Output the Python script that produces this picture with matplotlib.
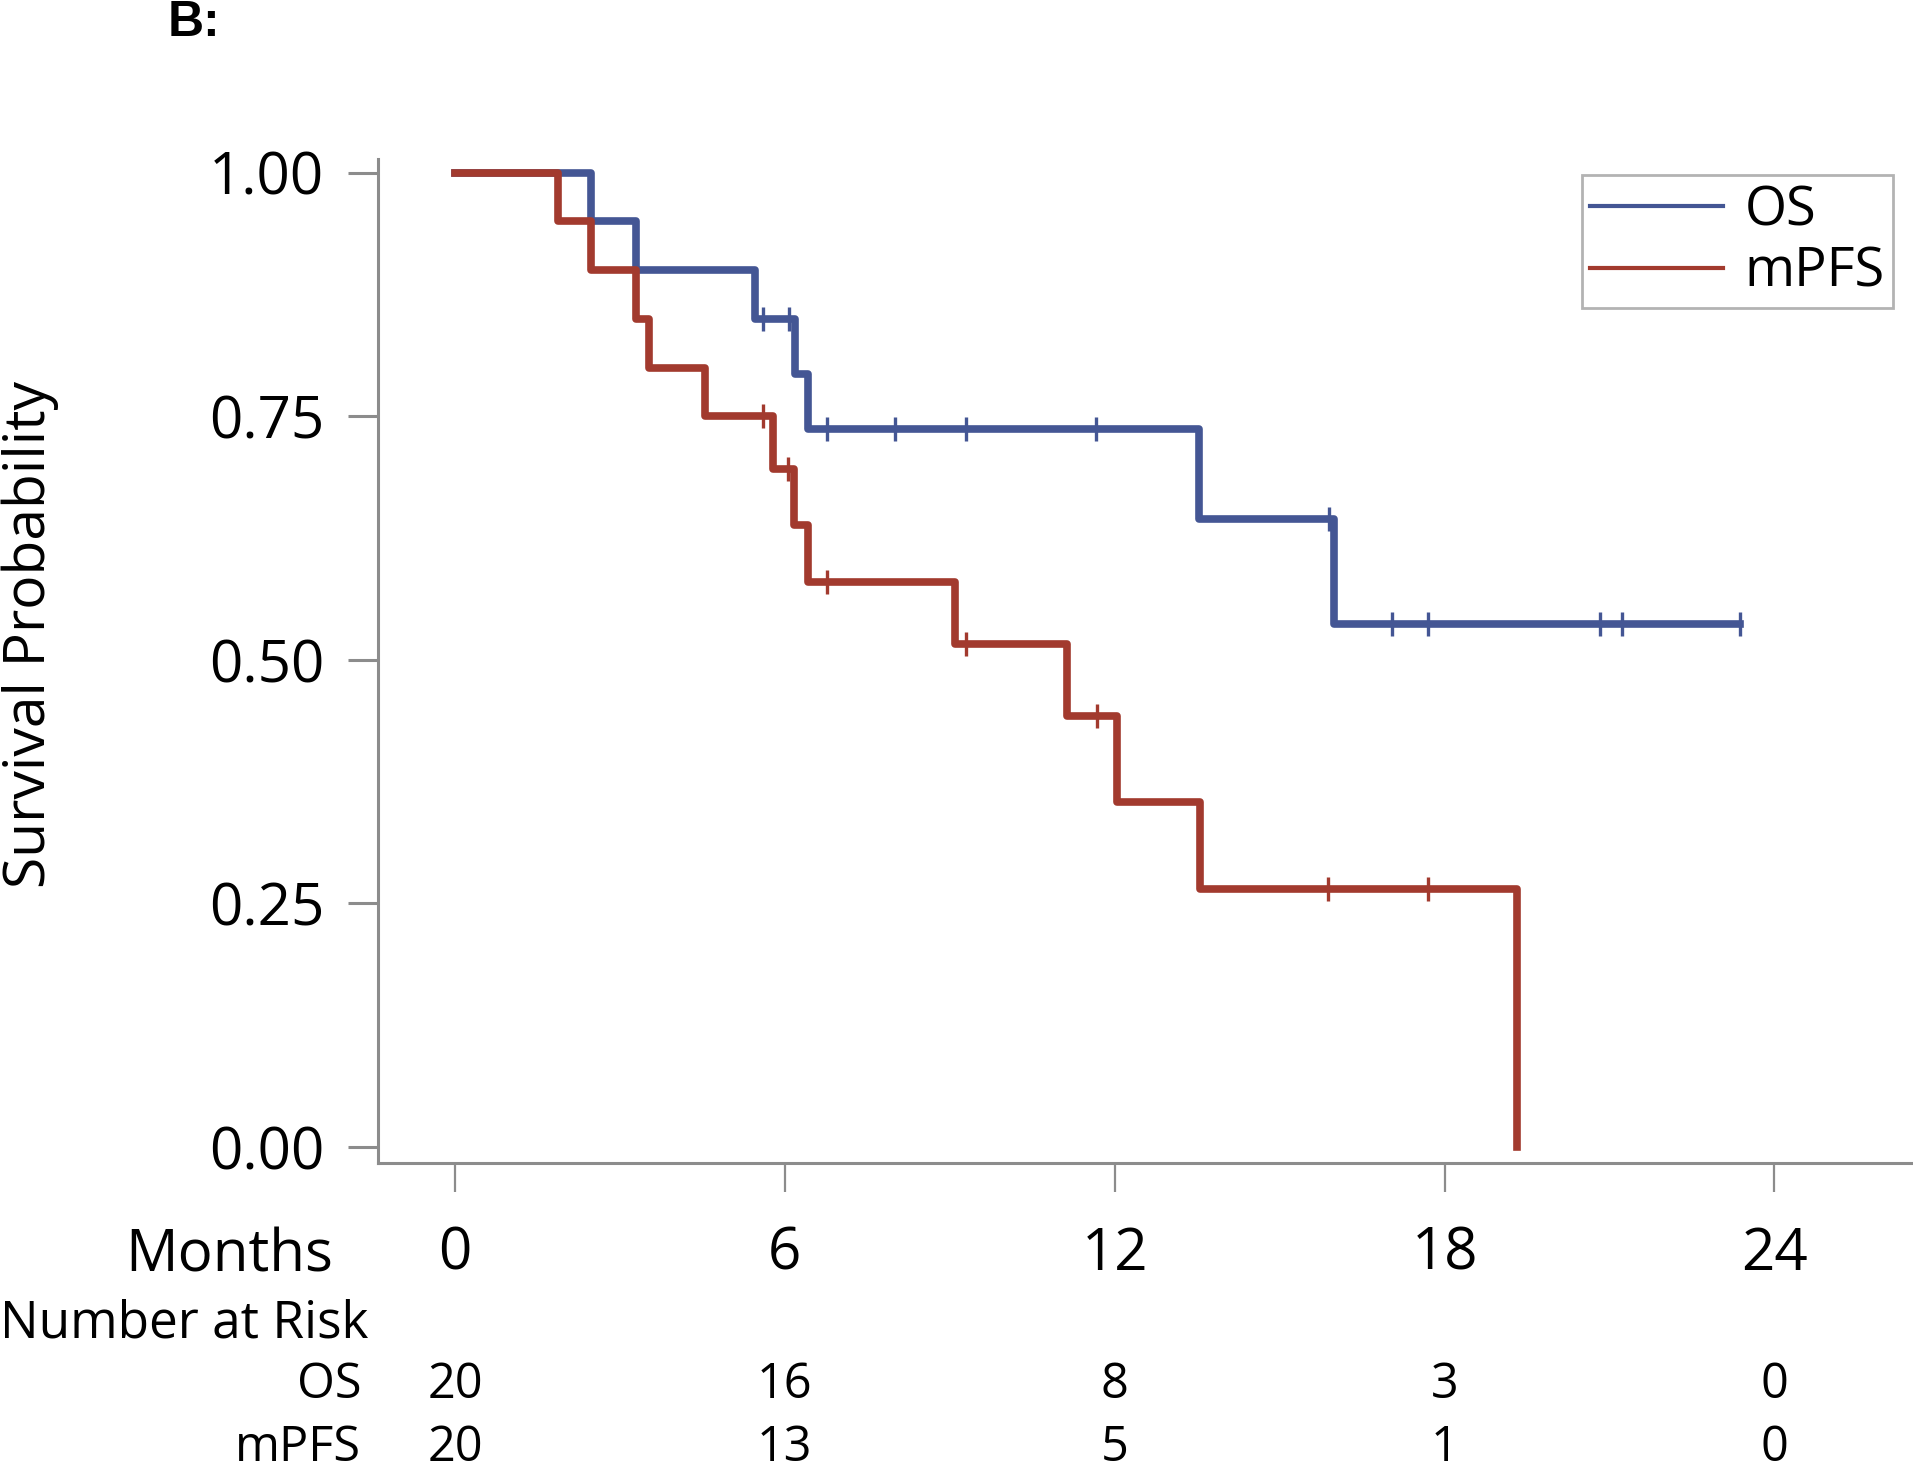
import numpy as np
import matplotlib
matplotlib.use("Agg")
import matplotlib.pyplot as plt
from matplotlib.transforms import blended_transform_factory

plt.rcParams['font.family'] = ['Open Sans', 'DejaVu Sans']

# Kaplan-Meier steps
os_times = [0, 2.47, 3.29, 5.45, 6.19, 6.42, 13.54, 15.99]
os_surv = [1.0, 0.95, 0.90, 0.85, 0.793, 0.737, 0.645, 0.537]
os_end = 23.37
os_censor = [5.61, 6.07, 6.77, 8.0, 9.30, 11.66, 15.90, 17.04, 17.69, 20.82, 21.22, 23.37]

pfs_times = [0, 1.87, 2.47, 3.29, 3.52, 4.54, 5.79, 6.17, 6.42, 9.09, 11.14, 12.05, 13.56, 19.31]
pfs_surv = [1.0, 0.95, 0.90, 0.85, 0.80, 0.75, 0.696, 0.638, 0.580, 0.516, 0.442, 0.354, 0.265, 0.0]
pfs_censor = [5.61, 6.05, 6.77, 9.29, 11.68, 15.88, 17.69]

risk_times = [0, 6, 12, 18, 24]
risk_os = [20, 16, 8, 3, 0]
risk_pfs = [20, 13, 5, 1, 0]

blue = '#445694'
red = '#A23A2E'
grey = '#8c8c8c'

W, H = 1913, 1464
fig = plt.figure(figsize=(W / 100, H / 100), dpi=100)
ax = fig.add_axes([377.7 / W, 301.3 / H, 1 - 377.7 / W, (1305 - 301.3) / H])


def level_at(times, surv, t):
    i = np.searchsorted(times, t, side='right') - 1
    return surv[i]


# OS
ax.step(os_times + [os_end], os_surv + [os_surv[-1]], where='post',
        color=blue, lw=5.5, zorder=3, label='OS')
ax.plot(os_censor, [level_at(os_times, os_surv, t) for t in os_censor],
        ls='none', marker='|', ms=17, mew=2.4, color=blue, zorder=3)

# mPFS
ax.step(pfs_times, pfs_surv, where='post', color=red, lw=5.5, zorder=4, label='mPFS')
ax.plot(pfs_censor, [level_at(pfs_times, pfs_surv, t) for t in pfs_censor],
        ls='none', marker='|', ms=17, mew=2.4, color=red, zorder=4)

ax.set_xlim(-1.406, 26.52)
ax.set_ylim(-0.0161, 1.014)

for s in ['top', 'right']:
    ax.spines[s].set_visible(False)
for s in ['left', 'bottom']:
    ax.spines[s].set_color(grey)
    ax.spines[s].set_linewidth(2.2)

ax.set_yticks([0, 0.25, 0.5, 0.75, 1.0])
ax.set_yticklabels(['0.00', '0.25', '0.50', '0.75', '1.00'])
ax.tick_params(axis='y', length=21.5, width=2.2, color=grey, pad=17, labelsize=42)
ax.set_xticks(risk_times)
ax.set_xticklabels([str(t) for t in risk_times])
ax.tick_params(axis='x', length=21, width=1.6, color=grey, pad=24, labelsize=42)

leg = ax.legend(loc='upper right', bbox_to_anchor=(1893 / W, 1 - 175 / H),
                bbox_transform=fig.transFigure, fontsize=39, frameon=True,
                fancybox=False, borderaxespad=0, borderpad=0.15,
                handlelength=2.45, handletextpad=0.4, labelspacing=0.12)
leg.get_frame().set_edgecolor('#a0a0a0')
leg.get_frame().set_linewidth(2)
for h in leg.get_lines():
    h.set_linewidth(3)

fig.text(30 / W, 1 - 635 / H, 'Survival Probability', rotation=90,
         ha='center', va='center', fontsize=41)
fig.text(168 / W, 1 - 36 / H, 'B:', fontsize=36, weight='bold',
         family='Liberation Sans', ha='left', va='baseline')

# risk table
fig.text(333 / W, 1 - 1271 / H, 'Months', fontsize=42, ha='right', va='baseline')
fig.text(0 / W, 1 - 1337 / H, 'Number at Risk', fontsize=37, ha='left', va='baseline')
fig.text(361 / W, 1 - 1398 / H, 'OS', fontsize=35, ha='right', va='baseline')
fig.text(361 / W, 1 - 1461 / H, 'mPFS', fontsize=35, ha='right', va='baseline')
tr = blended_transform_factory(ax.transData, fig.transFigure)
for t, a, b in zip(risk_times, risk_os, risk_pfs):
    ax.text(t, 1 - 1398 / H, str(a), transform=tr, fontsize=35, ha='center', va='baseline')
    ax.text(t, 1 - 1461 / H, str(b), transform=tr, fontsize=35, ha='center', va='baseline')

fig.savefig('out.png', dpi=100)
